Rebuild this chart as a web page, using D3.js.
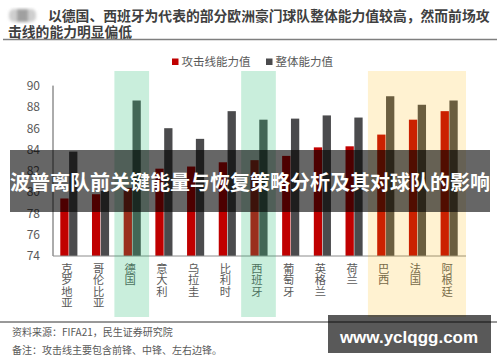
<!DOCTYPE html>
<html>
<head>
<meta charset="utf-8">
<script src="https://cdn.jsdelivr.net/npm/d3@7"></script>
<style>
  body { margin: 0; background: #fff; }
  text { font-family: "Noto Sans CJK SC", "Noto Sans", sans-serif; }
</style>
</head>
<body>
<div id="ChartContainer"></div>
<script>
var categories = ["克罗地亚", "哥伦比亚", "德国", "意大利", "乌拉圭", "比利时", "西班牙", "葡萄牙", "英格兰", "荷兰", "巴西", "法国", "阿根廷"]
var attackValues = [79.4, 79.8, 80.4, 82.2, 82.4, 82.8, 83.0, 83.4, 84.2, 84.3, 85.4, 86.8, 87.6]
var overallValues = [83.8, 80.1, 88.6, 86.0, 85.0, 87.6, 86.8, 86.9, 87.2, 87.0, 89.0, 88.2, 88.6]
var seriesNames = ["攻击线能力值", "整体能力值"]
var yTicks = [74, 76, 78, 80, 82, 84, 86, 88, 90]
var greenGroups = [["德国"], ["西班牙"]]
var yellowGroups = [["巴西", "法国", "阿根廷"]]

var fullWidth = 500
var fullHeight = 362
var colors = ["#c00000", "#4b4b4d"]

var svg = d3.select("#ChartContainer").append("svg")
  .attr("width", fullWidth)
  .attr("height", fullHeight)

var defs = svg.append("defs")
defs.append("filter")
  .attr("id", "blur")
  .append("feGaussianBlur")
  .attr("stdDeviation", 1.6)

// Title icon (blurred)
var icon = svg.append("g").attr("filter", "url(#blur)")
icon.append("rect").attr("x", 9).attr("y", 9).attr("width", 27).attr("height", 13).attr("rx", 5).attr("fill", "#cfcfcf")
icon.append("rect").attr("x", 17).attr("y", 9).attr("width", 11).attr("height", 13).attr("fill", "#a0a0a0")

// Chart title
svg.append("text")
  .attr("x", 48)
  .attr("y", 20.5)
  .attr("font-size", "13.8px")
  .attr("font-weight", "bold")
  .attr("fill", "#3f3f3f")
  .text("以德国、西班牙为代表的部分欧洲豪门球队整体能力值较高，然而前场攻")
svg.append("text")
  .attr("x", 8)
  .attr("y", 37)
  .attr("font-size", "13.8px")
  .attr("font-weight", "bold")
  .attr("fill", "#3f3f3f")
  .text("击线的能力明显偏低")

svg.append("line")
  .attr("x1", 3).attr("x2", 497)
  .attr("y1", 39.5).attr("y2", 39.5)
  .attr("stroke", "#7f7f7f")
  .attr("stroke-width", 1.5)

// Scales
var x = d3.scaleBand()
  .domain(categories)
  .range([53, 465])
  .paddingInner(0.46)
  .paddingOuter(0.23)
var xSub = d3.scaleBand()
  .domain(seriesNames)
  .range([0, x.bandwidth()])
  .paddingInner(0.06)
var y = d3.scaleLinear()
  .domain([74, 90])
  .range([256, 85.6])

var cellLeft = c => x(c) + x.bandwidth() / 2 - x.step() / 2

// Bars
var rows = categories.map((c, i) => ({cat: c, values: [attackValues[i], overallValues[i]]}))
var groups = svg.append("g").selectAll("g")
  .data(rows)
  .enter().append("g")
  .attr("transform", d => `translate(${x(d.cat)},0)`)
groups.selectAll("rect")
  .data(d => d.values.map((v, k) => ({name: seriesNames[k], value: v, k: k})))
  .enter().append("rect")
  .attr("x", d => xSub(d.name))
  .attr("width", xSub.bandwidth())
  .attr("y", d => y(d.value))
  .attr("height", d => y(74) - y(d.value))
  .attr("fill", d => colors[d.k])

// y-axis
svg.append("line")
  .attr("x1", 53).attr("x2", 53)
  .attr("y1", y(90)).attr("y2", y(74))
  .attr("stroke", "#595959")
  .attr("stroke-width", 1)
svg.append("line")
  .attr("x1", 53).attr("x2", 466)
  .attr("y1", y(74)).attr("y2", y(74))
  .attr("stroke", "#8c8c8c")
  .attr("stroke-width", 1)
svg.append("g").selectAll("text")
  .data(yTicks)
  .enter().append("text")
  .attr("x", 40)
  .attr("y", d => y(d))
  .attr("dy", "0.36em")
  .attr("text-anchor", "end")
  .attr("font-size", "12px")
  .attr("fill", "#595959")
  .text(d => d)

// x labels (vertical)
svg.append("g").selectAll("text")
  .data(categories)
  .enter().append("text")
  .attr("x", d => x(d) + x.bandwidth() / 2 - 2)
  .attr("y", 263)
  .attr("font-size", "11.3px")
  .attr("fill", "#595959")
  .style("writing-mode", "vertical-rl")
  .style("text-orientation", "upright")
  .text(d => d)

// Highlight blocks
var hl = svg.append("g")
greenGroups.concat(yellowGroups).forEach((grp, i) => {
  var isGreen = i < greenGroups.length
  var x0 = cellLeft(grp[0])
  hl.append("rect")
    .attr("x", x0 - 2)
    .attr("y", 71)
    .attr("width", x.step() * grp.length + 3)
    .attr("height", 246)
    .attr("fill", isGreen ? "rgb(40,188,116)" : "rgb(255,183,0)")
    .attr("fill-opacity", isGreen ? 0.25 : 0.18)
})

// Legend
var legend = svg.append("g")
var legendX = [172, 266]
seriesNames.forEach((name, k) => {
  legend.append("rect")
    .attr("x", legendX[k]).attr("y", 58.5)
    .attr("width", 6.5).attr("height", 6.5)
    .attr("fill", colors[k])
  legend.append("text")
    .attr("x", legendX[k] + 9.5)
    .attr("y", 62)
    .attr("dy", "0.36em")
    .attr("font-size", "11.5px")
    .attr("fill", "#595959")
    .text(name)
})

// Footer
svg.append("line")
  .attr("x1", 0).attr("x2", 497)
  .attr("y1", 322).attr("y2", 322)
  .attr("stroke", "#333")
  .attr("stroke-width", 1)
svg.append("text")
  .attr("x", 12).attr("y", 332)
  .attr("dy", "0.36em")
  .attr("font-size", "10px")
  .attr("fill", "#595959")
  .text("资料来源：FIFA21，民生证券研究院")
svg.append("text")
  .attr("x", 12).attr("y", 350)
  .attr("dy", "0.36em")
  .attr("font-size", "10px")
  .attr("fill", "#595959")
  .text("备注：攻击线主要包含前锋、中锋、左右边锋。")

// Overlay banner
svg.append("rect")
  .attr("x", 10).attr("y", 150)
  .attr("width", 480).attr("height", 62)
  .attr("fill", "#000")
  .attr("fill-opacity", 0.6)
svg.append("text")
  .attr("x", 250).attr("y", 183)
  .attr("dy", "0.36em")
  .attr("text-anchor", "middle")
  .attr("font-size", "20px")
  .attr("font-weight", "bold")
  .attr("fill", "#fff")
  .text("波普离队前关键能量与恢复策略分析及其对球队的影响")

// Watermark
svg.append("rect")
  .attr("x", 328).attr("y", 315)
  .attr("width", 163).attr("height", 38)
  .attr("fill", "#000")
  .attr("fill-opacity", 0.65)
svg.append("text")
  .attr("x", 409).attr("y", 337)
  .attr("dy", "0.36em")
  .attr("text-anchor", "middle")
  .attr("font-size", "17px")
  .attr("font-weight", "bold")
  .attr("fill", "#fff")
  .style("font-family", "'Liberation Sans', Arial, sans-serif")
  .text("www.yclqgg.com")
</script>
</body>
</html>
